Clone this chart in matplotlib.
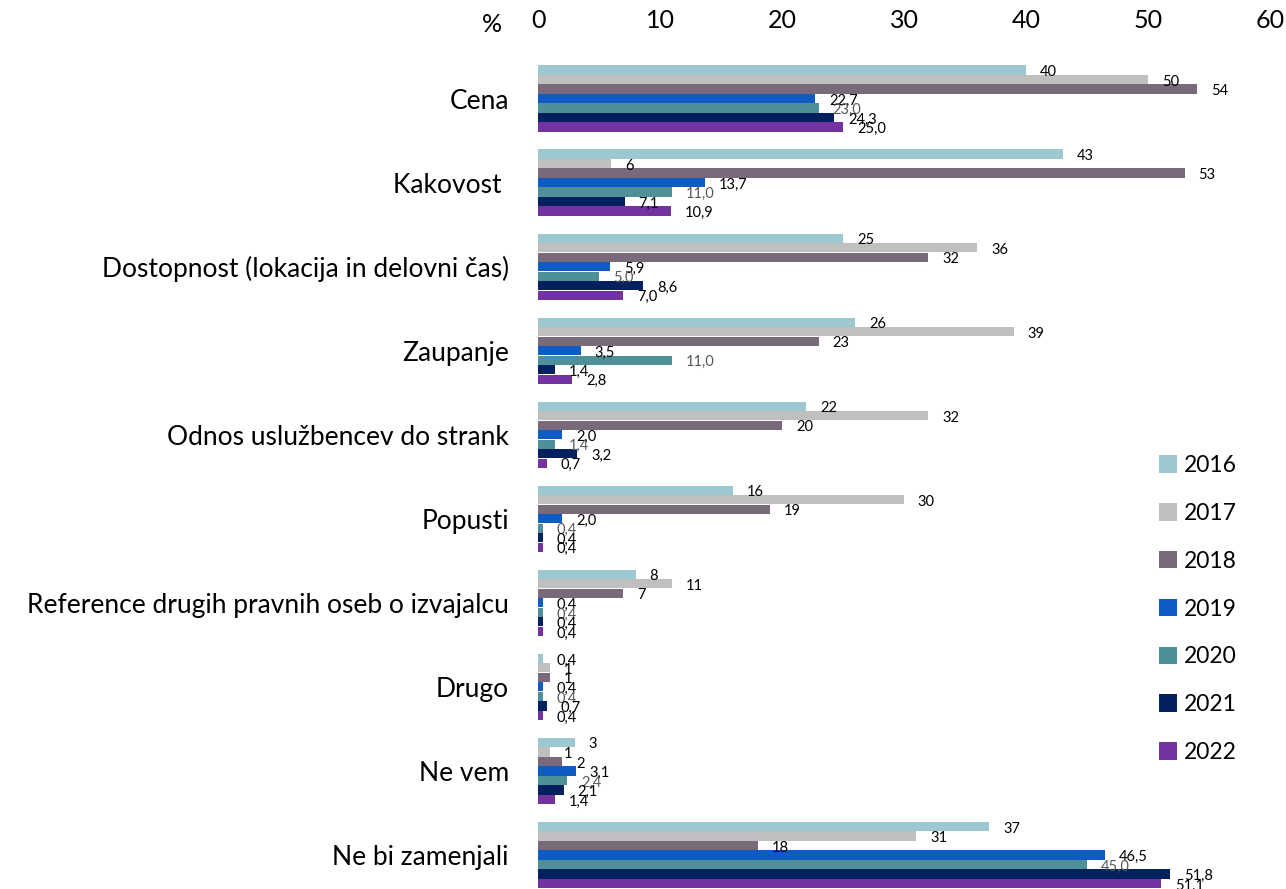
import matplotlib
matplotlib.use("Agg")
import matplotlib.pyplot as plt
from matplotlib.patches import Patch

categories = ["Cena", "Kakovost ", "Dostopnost (lokacija in delovni čas)", "Zaupanje",
              "Odnos uslužbencev do strank", "Popusti", "Reference drugih pravnih oseb o izvajalcu",
              "Drugo", "Ne vem", "Ne bi zamenjali"]
years = ["2016", "2017", "2018", "2019", "2020", "2021", "2022"]
v2016 = [40, 43, 25, 26, 22, 16, 8, 0.4, 3, 37]
v2017 = [50, 6, 36, 39, 32, 30, 11, 1, 1, 31]
v2018 = [54, 53, 32, 23, 20, 19, 7, 1, 2, 18]
v2019 = [22.7, 13.7, 5.9, 3.5, 2.0, 2.0, 0.4, 0.4, 3.1, 46.5]
v2020 = [23.0, 11.0, 5.0, 11.0, 1.4, 0.4, 0.4, 0.4, 2.4, 45.0]
v2021 = [24.3, 7.1, 8.6, 1.4, 3.2, 0.4, 0.4, 0.7, 2.1, 51.8]
v2022 = [25.0, 10.9, 7.0, 2.8, 0.7, 0.4, 0.4, 0.4, 1.4, 51.1]
series = [v2016, v2017, v2018, v2019, v2020, v2021, v2022]
colors = ["#9DC8CF", "#BFBFBF", "#786A7B", "#0F5BC6", "#4F8F97", "#03205F", "#7232A0"]
ticks = [0, 10, 20, 30, 40, 50, 60]

W, H = 1286, 889
fig = plt.figure(figsize=(W / 100, H / 100), dpi=100)
ax_left, ax_right, ax_top = 538, 1270, 45
ax = fig.add_axes([ax_left / W, 0, (ax_right - ax_left) / W, 1 - ax_top / H])

bh = 9.5 / 84
n = len(series)

def fmt(v, j):
    if j < 3:
        return ("%g" % v).replace(".", ",")
    return ("%.1f" % v).replace(".", ",")

for j, (vals, c) in enumerate(zip(series, colors)):
    ys = [i + (j - (n - 1) / 2) * bh for i in range(len(categories))]
    ax.barh(ys, vals, height=bh * 0.97, color=c, edgecolor="none")
    for y, v in zip(ys, vals):
        ax.annotate(fmt(v, j), (v, y), xytext=(10, -1.5), textcoords="offset points",
                    ha="left", va="center", fontsize=10.5, family="Lato",
                    color="#595959" if j == 4 else "#000000")

ax.set_xlim(0, 60)
ax.set_ylim(9 + (889 - 855) / 84, -(98.5 - ax_top) / 84)
ax.set_xticks(ticks)
ax.set_xticklabels([str(t) for t in ticks])
ax.xaxis.tick_top()
ax.tick_params(axis="x", length=0, pad=9, labelsize=18)
ax.set_yticks(range(len(categories)))
ax.set_yticklabels(categories)
ax.tick_params(axis="y", length=0, pad=21, labelsize=19)
for lab in ax.get_xticklabels() + ax.get_yticklabels():
    lab.set_family("Lato")
for s in ax.spines.values():
    s.set_visible(False)

fig.text(482 / W, 1 - 25 / H, "%", ha="left", va="center", fontsize=18, family="Lato")

handles = [Patch(facecolor=c, edgecolor="none") for c in colors]
fig.legend(handles, years, loc="center left", bbox_to_anchor=(1138 / W, 1 - 609 / H),
           frameon=False, prop={"family": "Lato", "size": 16.5}, handlelength=0.8,
           handleheight=0.8, handletextpad=0.3, labelspacing=1.17)

fig.savefig("out.png", dpi=100)
